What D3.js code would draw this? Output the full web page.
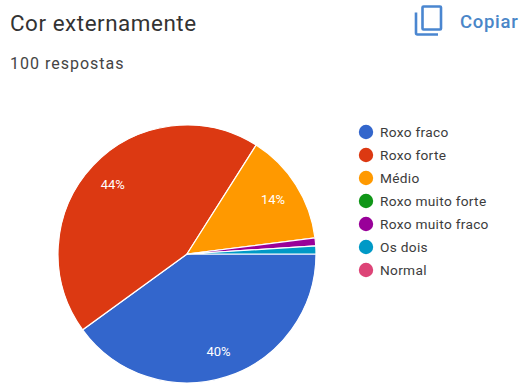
<!DOCTYPE html>
<html lang="pt">
<head>
<meta charset="utf-8">
<title>Cor externamente</title>
<script src="https://cdnjs.cloudflare.com/ajax/libs/d3/7.8.5/d3.min.js"></script>
<style>
html,body{margin:0;padding:0;background:#fff;}
svg{display:block;}
text{font-family:Roboto,"Noto Sans",sans-serif;}
</style>
</head>
<body>
<svg id="chart" width="527" height="385"></svg>
<script>
const categories = ["Roxo fraco","Roxo forte","Médio","Roxo muito forte","Roxo muito fraco","Os dois","Normal"];
const responses = [40,44,14,0,1,1,0];
const sliceColors = ["#3366cc","#dc3912","#ff9900","#109618","#990099","#0099c6","#dd4477"];
const chartTitle = "Cor externamente";
const subtitle = "100 respostas";
const actionLabel = "Copiar";

const svg = d3.select("#chart");
const cx = 187, cy = 254, radius = 129;

svg.append("text").attr("x",10).attr("y",31)
  .attr("font-size",22.4).attr("fill","#333").attr("letter-spacing",0.55).text(chartTitle);
svg.append("text").attr("x",10).attr("y",69)
  .attr("font-size",16).attr("fill","#444").attr("letter-spacing",1).text(subtitle);

// Copy action: two-layer document icon plus its label
const icon = svg.append("g").attr("fill","none").attr("stroke","#4a86d0").attr("stroke-width",2.6);
icon.append("rect").attr("x",422.5).attr("y",6.5).attr("width",18.5).attr("height",23).attr("rx",1);
icon.append("path").attr("d","M416 12.5V33a1.5 1.5 0 0 0 1.5 1.5H438");
svg.append("text").attr("x",460).attr("y",27.5)
  .attr("font-size",18.5).attr("font-weight",500).attr("fill","#4a86c8").attr("letter-spacing",0.7).text(actionLabel);

// Pie, clockwise from 3 o'clock
const pie = d3.pie().sort(null).value(d => d)
  .startAngle(Math.PI/2).endAngle(Math.PI/2 + 2*Math.PI);
const arc = d3.arc().innerRadius(0).outerRadius(radius);
const labelArc = d3.arc().innerRadius(radius*0.79).outerRadius(radius*0.79);
const arcs = pie(responses);
const color = d3.scaleOrdinal().domain(categories).range(sliceColors);

const plot = svg.append("g").attr("transform",`translate(${cx},${cy})`);
plot.selectAll("path").data(arcs.filter(d => d.value > 0)).join("path")
  .attr("d",arc)
  .attr("fill",d => color(categories[d.index]))
  .attr("stroke","#fff").attr("stroke-width",1.2);

// Only slices wide enough to hold a label get one
plot.selectAll("text").data(arcs.filter(d => d.value >= 5)).join("text")
  .attr("transform",d => `translate(${labelArc.centroid(d)})`)
  .attr("text-anchor","middle").attr("dy","0.36em")
  .attr("font-size",13).attr("fill","#fff")
  .text(d => d.value + "%");

// Legend
const legendY = d3.scalePoint().domain(categories).range([132,270]);
const legend = svg.append("g").selectAll("g").data(categories).join("g")
  .attr("transform",d => `translate(0,${legendY(d)})`);
legend.append("circle").attr("cx",366).attr("cy",0).attr("r",7.2).attr("fill",d => color(d));
legend.append("text").attr("x",380).attr("dy","0.36em")
  .attr("font-size",13.7).attr("fill","#3c3c3c").attr("letter-spacing",0.3).text(d => d);
</script>
</body>
</html>
